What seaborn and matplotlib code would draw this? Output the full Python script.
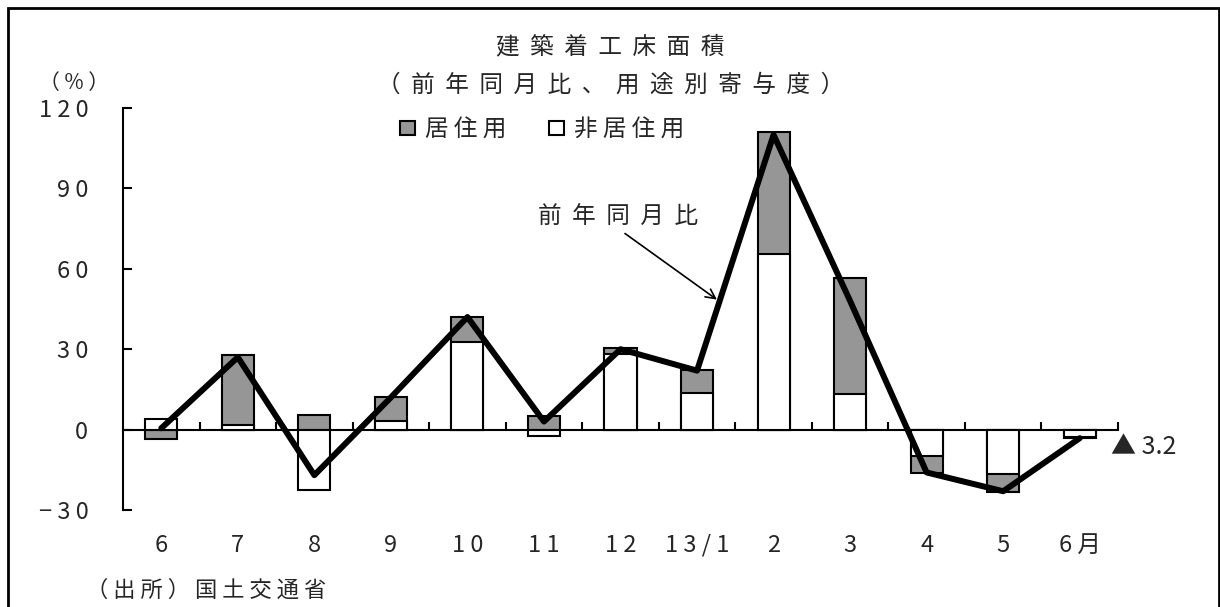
import numpy as np
import pandas as pd
import seaborn as sns
import matplotlib.pyplot as plt
from matplotlib.patches import Patch, Rectangle
from matplotlib.ticker import FixedLocator

# data (%)
months = ["6", "7", "8", "9", "10", "11", "12", "13/1", "2", "3", "4", "5", "6月"]
non_residential = [4.0, 1.8, -22.5, 3.3, 32.6, -2.3, 28.1, 13.5, 65.6, 13.2, -10.0, -16.6, -2.8]
residential = [-3.4, 25.9, 5.6, 8.8, 9.4, 5.0, 2.5, 8.7, 45.3, 43.4, -6.2, -6.5, -0.4]
yoy_total = [0.5, 27.0, -17.0, 12.0, 42.0, 3.0, 30.0, 22.0, 110.0, 48.0, -16.0, -23.0, -3.2]
y_ticks = [-30, 0, 30, 60, 90, 120]

GRAY = "#969696"
FONT = ["Noto Sans CJK JP", "DejaVu Sans"]


def spaced(s, n=1):
    return (" " * n).join(s)


sns.set_theme(style="white")
plt.rcParams["font.family"] = FONT
plt.rcParams["axes.unicode_minus"] = False

df = pd.DataFrame({"month": months, "non_res": non_residential, "res": residential})
# residential stacks on top of non-residential when both have the same sign
same_sign = np.sign(df["non_res"]) == np.sign(df["res"])
df["res_top"] = np.where(same_sign, df["non_res"] + df["res"], df["res"])

fig = plt.figure(figsize=(12.2, 6.07), dpi=100)
ax = fig.add_axes([123 / 1220, 1 - 510 / 607, (1118 - 123) / 1220, (510 - 108) / 607])

bar_kw = dict(order=months, width=0.42, edgecolor="black", linewidth=1.5, ax=ax, zorder=2)
sns.barplot(data=df, x="month", y="res_top", color=GRAY, saturation=1, **bar_kw)
sns.barplot(data=df, x="month", y="non_res", color="white", saturation=1, **bar_kw)
sns.lineplot(x=np.arange(len(months)), y=yoy_total, color="black", linewidth=4.3, ax=ax, zorder=3)

ax.set_xlim(-0.5, len(months) - 0.5)
ax.set_ylim(-30, 120)
ax.set_xlabel("")
ax.set_ylabel("")

# axes styling
for side in ["top", "right"]:
    ax.spines[side].set_visible(False)
ax.spines["left"].set_linewidth(1.5)
ax.spines["left"].set_color("black")
ax.spines["bottom"].set_position(("data", 0))
ax.spines["bottom"].set_linewidth(1.5)
ax.spines["bottom"].set_color("black")
ax.spines["bottom"].set_zorder(1)

ax.set_yticks(y_ticks)
ax.set_yticklabels([("− " + spaced(str(-v))) if v < 0 else spaced(str(v)) for v in y_ticks])
ax.tick_params(axis="y", direction="in", length=6.5, width=1.5, color="black",
               pad=25, labelsize=17, left=True)

ax.set_xticks(np.arange(len(months)))
ax.set_xticklabels([spaced(m) for m in months])
ax.xaxis.set_minor_locator(FixedLocator(np.arange(0.5, len(months), 1)))
ax.tick_params(axis="x", which="major", length=0, pad=75, labelsize=17)
ax.tick_params(axis="x", which="minor", direction="in", length=6, width=1.5,
               color="black", bottom=True)
ax.grid(False)

# titles and notes
fig.text(610 / 1220, 1 - 47 / 607, spaced("建築着工床面積", 2), ha="center", va="center", fontsize=17)
fig.text(611 / 1220, 1 - 85 / 607, spaced("（前年同月比、用途別寄与度）", 2), ha="center", va="center", fontsize=17)
fig.text(74 / 1220, 1 - 83 / 607, "（ % ）", ha="center", va="center", fontsize=15)
fig.text(206 / 1220, 1 - 590 / 607, spaced("（出所）国土交通省"), ha="center", va="center", fontsize=16)
fig.text(1111 / 1220, 1 - 447 / 607, "▲ 3.2", ha="left", va="center", fontsize=18)

handles = [Patch(facecolor=GRAY, edgecolor="black", linewidth=1.5),
           Patch(facecolor="white", edgecolor="black", linewidth=1.5)]
fig.legend(handles, [spaced("居住用"), spaced("非居住用")], loc="center left",
           bbox_to_anchor=(400 / 1220, 1 - 130 / 607), ncol=2, frameon=False,
           fontsize=17, handlelength=0.65, handleheight=0.5, handletextpad=0.42,
           columnspacing=1.8, borderaxespad=0, borderpad=0)

ax.annotate(spaced("前年同月比", 2), xy=(7.26, 48.5), xytext=(5.97, 75),
            ha="center", va="bottom", fontsize=17,
            arrowprops=dict(arrowstyle="->", color="black", lw=1.2,
                            relpos=(0.5, 0), shrinkA=2, shrinkB=0))

# outer frame
fig.patches.append(Rectangle((8 / 1220, -0.01), (1219 - 8) / 1220, 1 - 8 / 607 + 0.01,
                             transform=fig.transFigure, fill=False,
                             edgecolor="black", linewidth=2))

fig.savefig("out.png", dpi=100)
